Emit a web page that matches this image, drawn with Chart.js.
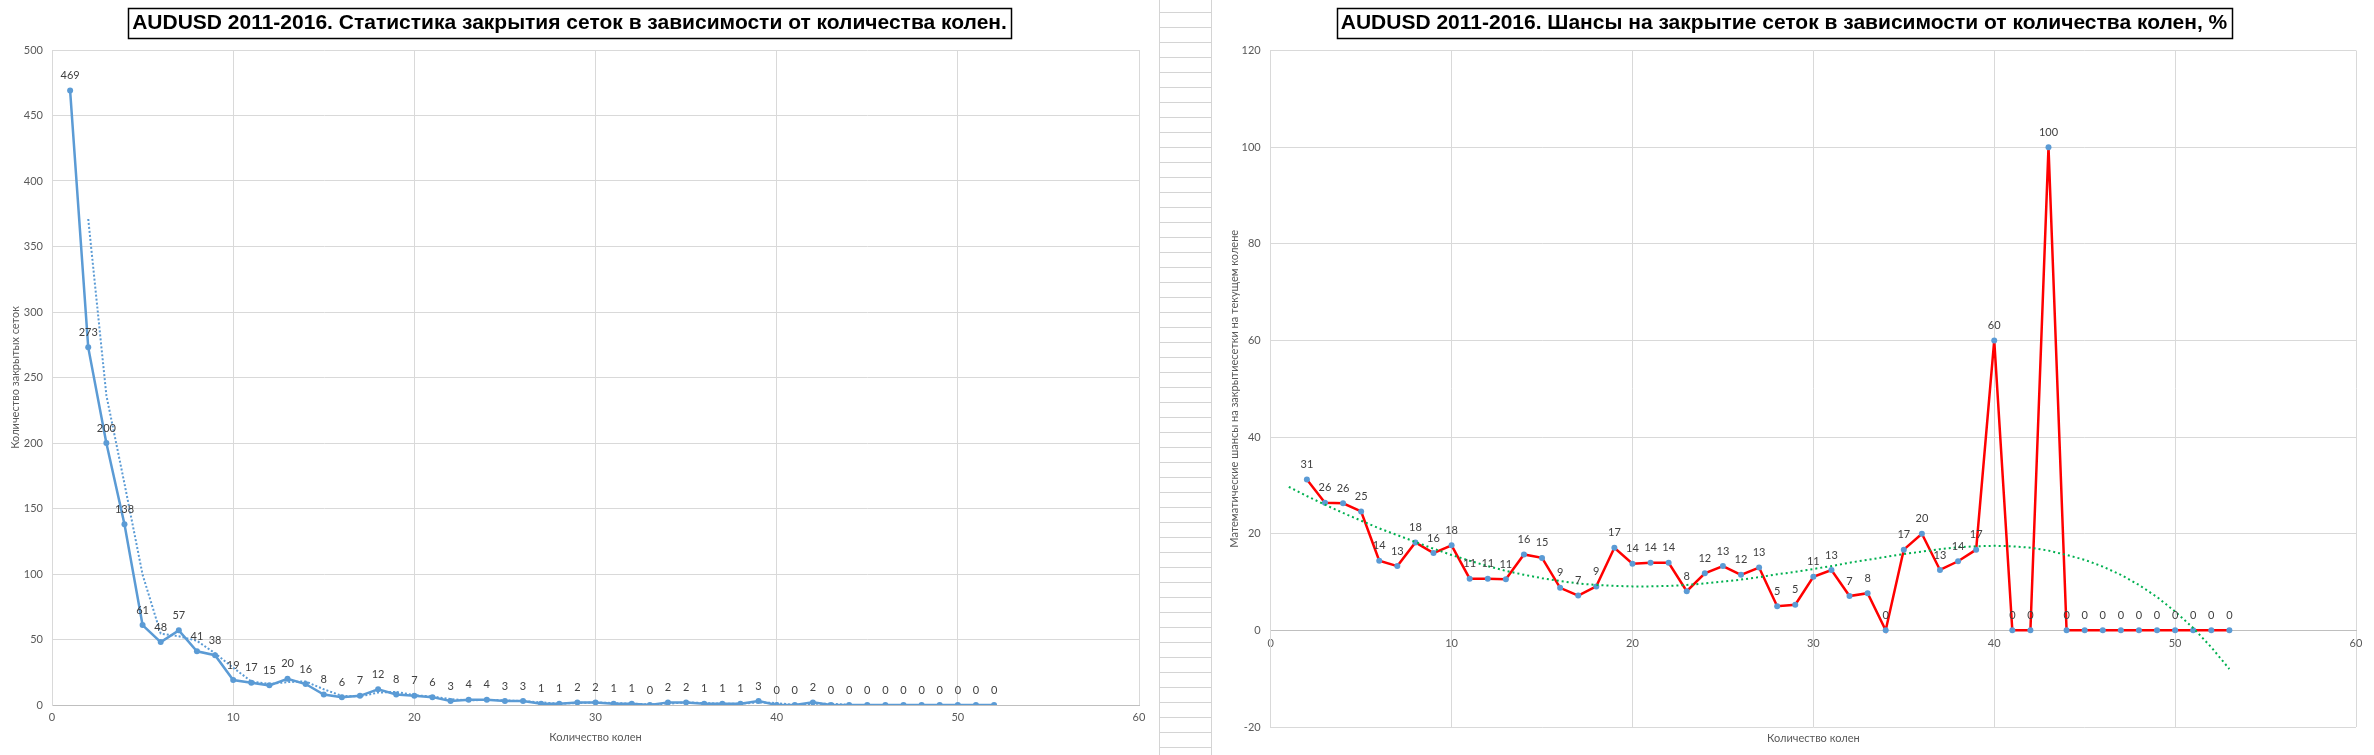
<!DOCTYPE html>
<html>
<head>
<meta charset="utf-8">
<script src="https://cdn.jsdelivr.net/npm/chart.js"></script>
<style>
  html, body { margin: 0; padding: 0; background: #fff; }
  body { width: 2374px; height: 755px; position: relative; overflow: hidden; }
  #closedChart { position: absolute; left: 0; top: 0; }
  #chanceChart { position: absolute; left: 1212px; top: 0; }
  /* spreadsheet cells visible between the two charts */
  #sheetStrip {
    position: absolute; left: 1159px; top: 0; width: 51px; height: 755px;
    border-left: 1px solid #d4d4d4; border-right: 1px solid #d4d4d4;
    background-image: repeating-linear-gradient(to bottom, transparent 0px, transparent 14px, #d4d4d4 14px, #d4d4d4 15px);
    background-position: 0 -2px;
  }
</style>
</head>
<body>
<canvas id="closedChart" width="1159" height="755"></canvas>
<div id="sheetStrip"></div>
<canvas id="chanceChart" width="1162" height="755"></canvas>
<script>
// left chart: how many grids closed on each knee
const closedKnees = [1,2,3,4,5,6,7,8,9,10,11,12,13,14,15,16,17,18,19,20,21,22,23,24,25,26,
  27,28,29,30,31,32,33,34,35,36,37,38,39,40,41,42,43,44,45,46,47,48,49,50,51,52];
const closedGrids = [469,273,200,138,61,48,57,41,38,19,17,15,20,16,8,6,7,12,8,7,6,3,4,4,3,3,
  1,1,2,2,1,1,0,2,2,1,1,1,3,0,0,2,0,0,0,0,0,0,0,0,0,0];
// dotted trend (2-point moving average)
const avgKnees = [2,3,4,5,6,7,8,9,10,11,12,13,14,15,16,17,18,19,20,21,22,23,24,25,26,
  27,28,29,30,31,32,33,34,35,36,37,38,39,40,41,42,43,44,45,46,47,48,49,50,51,52];
const avgGrids = [371,236.5,169,99.5,54.5,52.5,49,39.5,28.5,18,16,17.5,18,12,7,6.5,9.5,10,7.5,
  6.5,4.5,3.5,4,3.5,3,2,1,1.5,2,1.5,1,0.5,1,2,1.5,1,1,2,1.5,0,1,1,0,0,0,0,0,0,0,0,0];

// right chart: chance (%) to close on the current knee
const chanceKnees = [2,3,4,5,6,7,8,9,10,11,12,13,14,15,16,17,18,19,20,21,22,23,24,25,26,27,
  28,29,30,31,32,33,34,35,36,37,38,39,40,41,42,43,44,45,46,47,48,49,50,51,52,53];
const chances = [31.2,26.4,26.3,24.6,14.4,13.3,18.2,16.0,17.6,10.7,10.7,10.6,15.7,15.0,8.8,7.2,
  9.1,17.1,13.8,14.0,14.0,8.1,11.8,13.3,11.5,13.0,5.0,5.3,11.1,12.5,7.1,7.7,0,16.7,20.0,12.5,
  14.3,16.7,60,0,0,100,0,0,0,0,0,0,0,0,0,0];
// green polynomial trend
const trendKnees = [1,2,3,4,5,6,7,8,9,10,11,12,13,14,15,16,17,18,19,20,21,22,23,24,25,26,27,
  28,29,30,31,32,33,34,35,36,37,38,39,40,41,42,43,44,45,46,47,48,49,50,51,52,53];
const trendChances = [29.7,27.8,26.0,24.3,22.7,21.1,19.7,18.3,16.9,15.6,14.4,13.3,12.3,11.5,
  10.8,10.2,9.7,9.4,9.2,9.1,9.1,9.2,9.4,9.7,10.1,10.5,11.0,11.6,12.1,12.7,13.3,14.0,14.6,15.2,
  15.8,16.3,16.8,17.2,17.4,17.5,17.4,17.1,16.5,15.6,14.6,13.2,11.5,9.4,6.9,3.9,0.5,-3.5,-8.0];

const closedTitle = 'AUDUSD 2011-2016. Статистика закрытия сеток в зависимости от количества колен.';
const chanceTitle = 'AUDUSD 2011-2016. Шансы на закрытие сеток в зависимости от количества колен, %';

const toPoints = (xs, ys) => xs.map((x, i) => ({ x: x, y: ys[i] }));

const tickGray = '#595959';
const gridGray = '#d9d9d9';
const labelFont = 'Lato';
const titleFont = '"Liberation Sans", Arial, sans-serif';

// values above the markers, like excel data labels
const pointLabels = {
  id: 'pointLabels',
  afterDatasetsDraw(chart) {
    const ctx = chart.ctx;
    chart.data.datasets.forEach((ds, i) => {
      if (!ds.showLabels) return;
      const meta = chart.getDatasetMeta(i);
      ctx.save();
      ctx.font = '11px ' + labelFont;
      ctx.fillStyle = '#404040';
      ctx.textAlign = 'center';
      ctx.textBaseline = 'middle';
      meta.data.forEach((pt, j) => {
        ctx.fillText(String(Math.round(ds.data[j].y)), pt.x, pt.y - 15);
      });
      ctx.restore();
    });
  }
};

// black box round the chart title
const titleFrame = {
  id: 'titleFrame',
  afterDraw(chart) {
    const opts = chart.options.plugins.title;
    const t = chart.titleBlock;
    const ctx = chart.ctx;
    ctx.save();
    ctx.font = Chart.helpers.toFont(opts.font).string;
    const w = ctx.measureText(opts.text).width;
    const cx = (t.left + t.right) / 2;
    ctx.strokeStyle = '#000';
    ctx.lineWidth = 1.5;
    ctx.strokeRect(Math.round(cx - w / 2 - 4) + 0.5, 8.5, Math.round(w + 8), 30);
    ctx.restore();
  }
};

new Chart(document.getElementById('closedChart'), {
  type: 'line',
  data: {
    datasets: [
      {
        label: 'Тренд',
        data: toPoints(avgKnees, avgGrids),
        borderColor: '#5B9BD5',
        borderWidth: 2,
        borderDash: [2, 2],
        pointRadius: 0,
        fill: false
      },
      {
        label: 'Количество закрытых сеток',
        data: toPoints(closedKnees, closedGrids),
        borderColor: '#5B9BD5',
        backgroundColor: '#5B9BD5',
        borderWidth: 2.5,
        pointRadius: 3,
        pointBorderWidth: 0,
        showLabels: true
      }
    ]
  },
  options: {
    responsive: false,
    animation: false,
    layout: { padding: { right: 20 } },
    plugins: {
      legend: { display: false },
      tooltip: { enabled: false },
      title: {
        display: true,
        text: closedTitle,
        color: '#000',
        font: { family: titleFont, size: 21, weight: 'bold' },
        padding: { top: 10.4, bottom: 14.4 }
      }
    },
    scales: {
      x: {
        type: 'linear', min: 0, max: 60,
        ticks: { stepSize: 10, color: tickGray, font: { family: labelFont, size: 11 }, padding: 6 },
        grid: { color: gridGray, drawTicks: false },
        border: { color: '#bfbfbf' },
        title: { display: true, text: 'Количество колен', color: tickGray,
                 font: { family: labelFont, size: 11 }, padding: { top: 4, bottom: 11.4 } },
        afterFit: s => { s.height = 50; }
      },
      y: {
        min: 0, max: 500,
        ticks: { stepSize: 50, color: tickGray, font: { family: labelFont, size: 11 }, padding: 9 },
        grid: { color: gridGray, drawTicks: false },
        border: { color: gridGray },
        title: { display: true, text: 'Количество закрытых сеток', color: tickGray,
                 font: { family: labelFont, size: 11 }, padding: { top: 8.4, bottom: 0 } },
        afterFit: s => { s.width = 52; }
      }
    }
  },
  plugins: [pointLabels, titleFrame]
});

new Chart(document.getElementById('chanceChart'), {
  type: 'line',
  data: {
    datasets: [
      {
        label: 'Полиномиальный тренд',
        data: toPoints(trendKnees, trendChances),
        borderColor: '#00B050',
        borderWidth: 2,
        borderDash: [2, 3],
        pointRadius: 0,
        fill: false
      },
      {
        label: 'Шансы, %',
        data: toPoints(chanceKnees, chances),
        borderColor: '#FF0000',
        backgroundColor: '#5B9BD5',
        pointBackgroundColor: '#5B9BD5',
        borderWidth: 2.5,
        pointRadius: 3,
        pointBorderWidth: 0,
        showLabels: true
      }
    ]
  },
  options: {
    responsive: false,
    animation: false,
    layout: { padding: { right: 18 } },
    plugins: {
      legend: { display: false },
      tooltip: { enabled: false },
      title: {
        display: true,
        text: chanceTitle,
        color: '#000',
        font: { family: titleFont, size: 21, weight: 'bold' },
        padding: { top: 10.4, bottom: 14.9 }
      },
      subtitle: {
        display: true,
        position: 'bottom',
        fullSize: false,
        text: 'Количество колен',
        color: tickGray,
        font: { family: labelFont, size: 11 },
        padding: { top: 4.5, bottom: 10.3 }
      }
    },
    scales: {
      x: {
        type: 'linear', min: 0, max: 60,
        position: { y: 0 },
        ticks: { stepSize: 10, color: tickGray, font: { family: labelFont, size: 11 }, padding: 6 },
        grid: { color: gridGray, drawTicks: false },
        border: { color: '#bfbfbf' }
      },
      y: {
        min: -20, max: 120,
        ticks: { stepSize: 20, color: tickGray, font: { family: labelFont, size: 11 }, padding: 10 },
        grid: { color: gridGray, drawTicks: false },
        border: { color: gridGray },
        title: { display: true, text: 'Математические шансы на закрытиесетки на текущем колене', color: tickGray,
                 font: { family: labelFont, size: 11 }, padding: { top: 15.4, bottom: 0 } },
        afterFit: s => { s.width = 58.7; }
      }
    }
  },
  plugins: [pointLabels, titleFrame]
});
</script>
</body>
</html>
